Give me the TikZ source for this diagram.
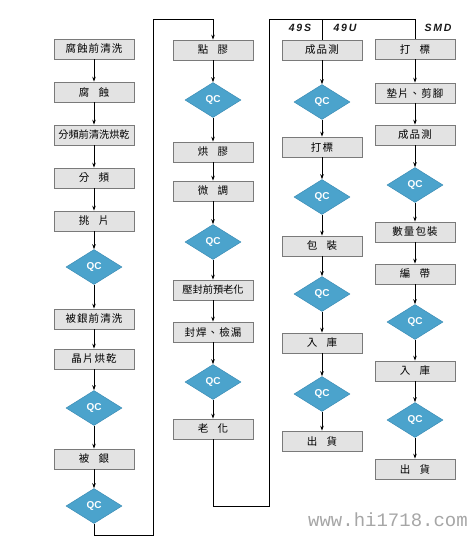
\documentclass[tikz,border=0pt]{standalone}
\usepackage{fontspec}
\setmainfont{Liberation Sans}
\newfontfamily\cjk[LetterSpace=10]{Noto Sans CJK TC}
\newfontfamily\cjktight{Noto Sans CJK TC}
\newfontfamily\wmfont{Liberation Mono}
\usetikzlibrary{shapes.geometric,arrows.meta}
\definecolor{boxfill}{HTML}{E3E3E3}
\definecolor{boxborder}{HTML}{7A7A7A}
\definecolor{qcfill}{HTML}{4BA3CC}
\definecolor{qcborder}{HTML}{3C8DB5}
\newcommand\gapc{\hspace{0.9em}}
\begin{document}
\begin{tikzpicture}[x=1pt,y=-1pt,
  box/.style={draw=boxborder, fill=boxfill, line width=0.7pt, minimum width=80pt, minimum height=20pt, inner sep=0pt, font=\cjk\fontsize{10.5}{12}\selectfont},
  tight/.style={font=\cjktight\fontsize{10.2}{12}\selectfont},
  qc/.style={diamond, draw=qcborder, fill=qcfill, line width=0.5pt, minimum width=56pt, minimum height=35pt, inner sep=0pt, text=white, font=\bfseries\fontsize{10}{12}\selectfont},
  flow/.style={draw, line width=0.7pt, -{Stealth[length=5pt,width=3.5pt]}},
  link/.style={draw, line width=0.8pt},
  lab/.style={font=\bfseries\itshape\fontsize{10.5}{12}\selectfont, text=black!90}]
\useasboundingbox (0,0) rectangle (474,542);
% column 1
\node[box]        (a1)  at (94,49)  {腐蝕前清洗};
\node[box]        (a2)  at (94,92)  {腐\gapc 蝕};
\node[box,tight]  (a3)  at (94,135) {分頻前清洗烘乾};
\node[box]        (a4)  at (94,178) {分\gapc 頻};
\node[box]        (a5)  at (94,221) {挑\gapc 片};
\node[qc]         (a6)  at (94,267) {QC};
\node[box]        (a7)  at (94,319) {被銀前清洗};
\node[box]        (a8)  at (94,359) {晶片烘乾};
\node[qc]         (a9)  at (94,408) {QC};
\node[box]        (a10) at (94,459) {被\gapc 銀};
\node[qc]         (a11) at (94,506) {QC};
% column 2
\node[box]        (b1)  at (213,50)  {點\gapc 膠};
\node[qc]         (b2)  at (213,100) {QC};
\node[box]        (b3)  at (213,152) {烘\gapc 膠};
\node[box]        (b4)  at (213,191) {微\gapc 調};
\node[qc]         (b5)  at (213,242) {QC};
\node[box,tight]  (b6)  at (213,290) {壓封前預老化};
\node[box]        (b7)  at (213,332) {封焊、檢漏};
\node[qc]         (b8)  at (213,382) {QC};
\node[box]        (b9)  at (213,429) {老\gapc 化};
% column 3
\node[box]        (c1)  at (322,50)  {成品測};
\node[qc]         (c2)  at (322,102) {QC};
\node[box]        (c3)  at (322,147) {打標};
\node[qc]         (c4)  at (322,197) {QC};
\node[box]        (c5)  at (322,246) {包\gapc 裝};
\node[qc]         (c6)  at (322,294) {QC};
\node[box]        (c7)  at (322,343) {入\gapc 庫};
\node[qc]         (c8)  at (322,394) {QC};
\node[box]        (c9)  at (322,441) {出\gapc 貨};
% column 4
\node[box]        (d1)  at (415,49)  {打\gapc 標};
\node[box]        (d2)  at (415,93)  {墊片、剪腳};
\node[box]        (d3)  at (415,135) {成品測};
\node[qc]         (d4)  at (415,185) {QC};
\node[box]        (d5)  at (415,232) {數量包裝};
\node[box]        (d6)  at (415,274) {編\gapc 帶};
\node[qc]         (d7)  at (415,322) {QC};
\node[box]        (d8)  at (415,371) {入\gapc 庫};
\node[qc]         (d9)  at (415,420) {QC};
\node[box]        (d10) at (415,469) {出\gapc 貨};
% in-column arrows
\foreach \i [count=\j from 2] in {1,...,10} \draw[flow] (a\i) -- (a\j);
\foreach \i [count=\j from 2] in {1,...,8}  \draw[flow] (b\i) -- (b\j);
\foreach \i [count=\j from 2] in {1,...,8}  \draw[flow] (c\i) -- (c\j);
\foreach \i [count=\j from 2] in {1,...,9}  \draw[flow] (d\i) -- (d\j);
% links between columns
\coordinate (l1) at (94,535);
\coordinate (l2) at (153,535);
\coordinate (l3) at (153,19);
\coordinate (l4) at (213,19);
\draw[flow] (a11.south) -- (l1) -- (l2) -- (l3) -- (l4) -- (b1.north);
\coordinate (m1) at (213,506);
\coordinate (m2) at (269,506);
\coordinate (m3) at (269,19);
\coordinate (m4) at (415,19);
\coordinate (m5) at (322,19);
\draw[link] (b9.south) -- (m1) -- (m2) -- (m3) -- (m4) -- (d1.north);
\draw[link] (m5) -- (c1.north);
% branch labels
\node[lab] (t1) at (300,28) {4\,9\,S};
\node[lab] (t2) at (345,28) {4\,9\,U};
\node[lab] (t3) at (438,28) {S\,M\,D};
% watermark
\node[font=\wmfont\fontsize{19}{20}\selectfont, text=black!35] (wm) at (388,520) {www.hi1718.com};
\end{tikzpicture}
\end{document}
